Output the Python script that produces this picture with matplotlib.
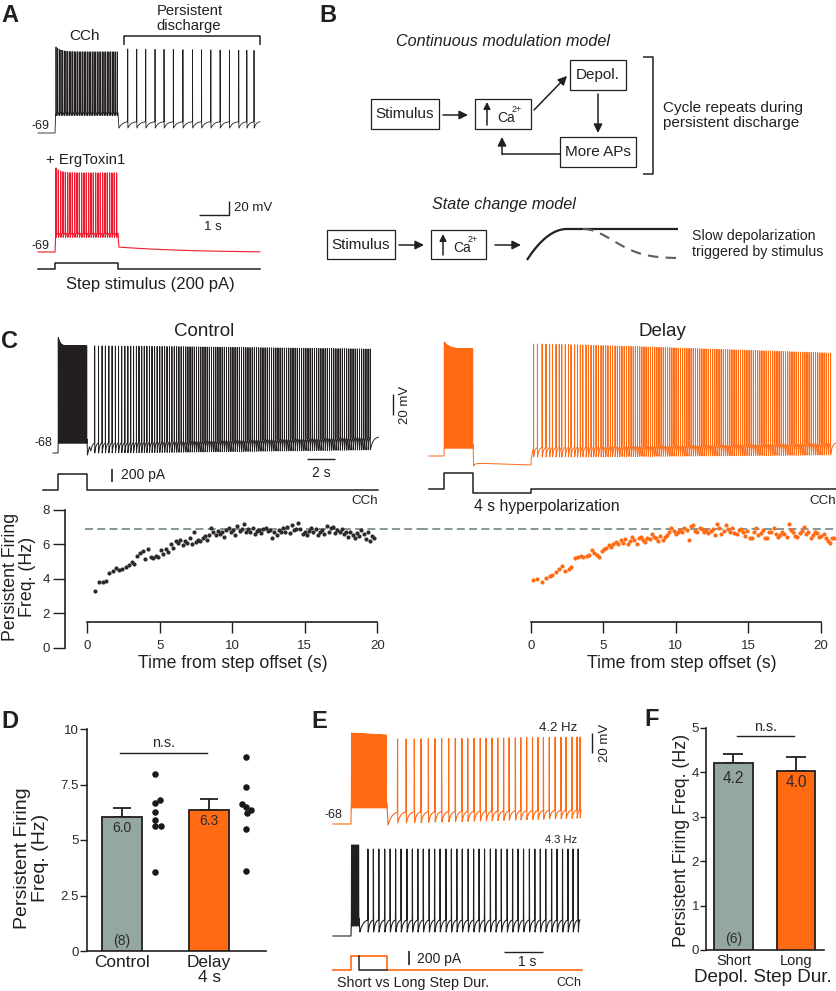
import numpy as np
import matplotlib
matplotlib.use('Agg')
import matplotlib.pyplot as plt
from matplotlib.patches import Rectangle

plt.rcParams['font.family'] = ['Liberation Sans', 'DejaVu Sans']

W, H = 837, 991
INK = '#231f20'
ORANGE = '#ff6a13'
RED = '#ee1c2e'
GRAY = '#95a7a2'
DASH = '#7d8f8b'

#################################################
# data

# C: persistent firing frequency vs time from step offset
ctrl_t = [0.53, 0.80, 1.05, 1.28, 1.52, 1.75, 1.98, 2.20, 2.42, 2.64, 2.85, 3.05, 3.25, 3.45, 3.63,
          3.82, 4.00, 4.18, 4.36, 4.54, 4.72, 4.90, 5.08, 5.25, 5.42, 5.59, 5.76, 5.93, 6.10, 6.26,
          6.42, 6.58, 6.74, 6.90, 7.05, 7.20, 7.35, 7.50, 7.65, 7.80, 7.95, 8.10, 8.25, 8.40, 8.55,
          8.70, 8.85, 9.00, 9.15, 9.30, 9.45, 9.60, 9.75, 9.90, 10.05, 10.20, 10.35, 10.50, 10.65,
          10.80, 10.95, 11.10, 11.25, 11.40, 11.55, 11.70, 11.85, 12.00, 12.15, 12.30, 12.45, 12.60,
          12.75, 12.90, 13.05, 13.20, 13.35, 13.50, 13.65, 13.80, 13.95, 14.10, 14.25, 14.40, 14.55,
          14.70, 14.85, 15.00, 15.15, 15.30, 15.45, 15.60, 15.75, 15.90, 16.05, 16.20, 16.35, 16.50,
          16.65, 16.80, 16.95, 17.10, 17.25, 17.40, 17.55, 17.70, 17.85, 18.00, 18.15, 18.30, 18.45,
          18.60, 18.75, 18.90, 19.05, 19.20, 19.35, 19.50, 19.65, 19.80]
ctrl_f = [3.30, 3.80, 3.82, 3.85, 4.35, 4.45, 4.62, 4.50, 4.58, 4.70, 4.80, 4.95, 4.88, 5.35, 5.50,
          5.62, 5.15, 5.75, 5.25, 5.20, 5.30, 5.28, 5.65, 5.45, 5.75, 5.55, 6.05, 5.80, 6.20, 6.10,
          6.25, 5.95, 6.20, 6.10, 6.35, 6.05, 6.70, 6.15, 6.25, 6.20, 6.35, 6.50, 6.25, 6.55, 6.95,
          6.70, 6.55, 6.80, 6.60, 6.75, 6.45, 6.85, 6.95, 6.70, 6.85, 6.55, 7.05, 6.80, 6.90,
          7.20, 6.75, 6.90, 6.70, 6.95, 6.60, 6.80, 6.85, 6.65, 6.90, 6.95, 6.80, 6.85,
          6.40, 6.70, 6.55, 6.85, 6.70, 6.95, 6.75, 7.00, 6.65, 7.15, 6.85, 6.90, 7.25,
          6.90, 6.60, 6.75, 6.55, 6.80, 6.95, 6.70, 6.90, 6.55, 6.75, 6.85, 6.60, 7.05,
          6.75, 6.95, 7.00, 6.65, 6.85, 6.70, 6.90, 6.60, 6.75, 6.45, 6.70, 6.55, 6.40,
          6.65, 6.50, 6.85, 6.60, 6.30, 6.75, 6.20, 6.50, 6.40]

delay_t = [0.18, 0.45, 0.78, 1.05, 1.30, 1.50, 1.75, 1.98, 2.15, 2.40, 2.62, 2.80, 3.05, 3.25, 3.45,
           3.62, 3.85, 4.02, 4.20, 4.38, 4.55, 4.72, 4.90, 5.05, 5.22, 5.38, 5.55, 5.70, 5.88, 6.04,
           6.20, 6.36, 6.52, 6.68, 6.84, 7.00, 7.15, 7.30, 7.45, 7.60, 7.75, 7.90, 8.05, 8.20, 8.35,
           8.50, 8.65, 8.80, 8.95, 9.10, 9.25, 9.40, 9.55, 9.70, 9.85, 10.00, 10.15, 10.30, 10.45,
           10.60, 10.75, 10.90, 11.05, 11.20, 11.35, 11.50, 11.65, 11.80, 11.95, 12.10, 12.25, 12.40,
           12.55, 12.70, 12.85, 13.00, 13.15, 13.30, 13.45, 13.60, 13.75, 13.90, 14.05, 14.20, 14.35,
           14.50, 14.65, 14.80, 14.95, 15.10, 15.25, 15.40, 15.55, 15.70, 15.85, 16.00, 16.15, 16.30,
           16.45, 16.60, 16.75, 16.90, 17.05, 17.20, 17.35, 17.50, 17.65, 17.80, 17.95, 18.10, 18.25,
           18.40, 18.55, 18.70, 18.85, 19.00, 19.15, 19.30, 19.45, 19.60, 19.75, 19.90, 20.05, 20.20,
           20.35, 20.50, 20.65, 20.80, 20.95]
delay_f = [3.95, 4.00, 3.80, 4.05, 4.15, 4.25, 4.40, 4.55, 4.75, 4.45, 4.60, 4.70, 5.20, 5.25, 5.30,
           5.25, 5.35, 5.40, 5.70, 5.50, 5.40, 5.25, 5.60, 5.75, 5.80, 5.95, 5.85, 6.05, 6.15, 6.00,
           6.25, 6.10, 6.30, 6.00, 6.20, 6.45, 6.25, 6.05, 6.35, 6.45, 6.25, 6.15, 6.40, 6.30, 6.60,
           6.45, 6.35, 6.20, 6.50, 6.25, 6.45, 6.55, 6.70, 6.95, 6.80, 6.60, 6.75, 6.85, 6.70,
           6.95, 6.85, 6.25, 7.05, 7.10, 6.80, 6.75, 6.95, 6.90, 6.70, 6.85, 6.65, 6.80,
           6.90, 6.55, 7.20, 6.95, 6.60, 6.80, 7.10, 6.90, 6.75, 6.95, 6.65, 6.60, 6.85,
           6.90, 6.70, 6.50, 6.80, 6.40, 6.35, 6.75, 6.95, 6.55, 6.65, 6.85, 6.40, 6.35,
           6.70, 6.75, 6.95, 6.60, 6.45, 6.55, 6.75, 6.60, 6.45, 7.20, 6.85, 6.70, 6.50,
           6.45, 6.65, 6.80, 7.00, 6.60, 6.75, 6.40, 6.55, 6.70, 6.65, 6.45, 6.50, 6.60,
           6.35, 6.20, 6.10, 6.35, 6.40]
plateau_f = 6.9

# D: mean +/- SEM and individual cells
d_groups = ['Control', 'Delay\n4 s']
d_mean = [6.05, 6.35]
d_sem = [0.40, 0.50]
d_text = ['6.0', '6.3']
d_ctrl_cells = [7.97, 6.80, 6.68, 6.28, 5.90, 5.63, 5.63, 3.57]
d_delay_cells = [8.72, 7.40, 6.62, 6.50, 6.35, 6.20, 5.48, 3.60]
d_ctrl_pos = [0.38, 0.44, 0.38, 0.38, 0.38, 0.38, 0.45, 0.38]
d_delay_pos = [1.43, 1.43, 1.376, 1.43, 1.48, 1.44, 1.43, 1.43]

# F
f_groups = ['Short', 'Long']
f_mean = [4.21, 4.03]
f_sem = [0.20, 0.32]
f_text = ['4.2', '4.0']

# spike times (s) in example traces
a_persist_times = [2.42, 2.72, 3.02, 3.33, 3.63, 3.94, 4.26, 4.58, 4.88, 5.19, 5.50, 5.81,
                   6.12, 6.39, 6.63]
e_long_times = [1.19, 1.41, 1.62, 1.79, 1.98, 2.15, 2.32, 2.50, 2.67, 2.84, 2.99, 3.15, 3.31,
                3.46, 3.61, 3.76, 3.91, 4.05, 4.21, 4.35, 4.50, 4.65, 4.79, 4.93, 5.08, 5.23,
                5.38, 5.51, 5.66, 5.79, 5.87]
e_short_times = [0.43, 0.57, 0.71, 0.86, 1.00, 1.14, 1.28, 1.43, 1.57, 1.71, 1.85, 2.00, 2.14,
                 2.28, 2.43, 2.57, 2.71, 2.85, 3.00, 3.14, 3.28, 3.42, 3.57, 3.71, 3.85, 4.00,
                 4.14, 4.28, 4.42, 4.57, 4.71, 4.85, 4.99, 5.14, 5.28, 5.42, 5.56, 5.69, 5.82]

#################################################

fig = plt.figure(figsize=(W / 100, H / 100), dpi=100)
canvas = fig.add_axes([0, 0, 1, 1])
canvas.set_xlim(0, W)
canvas.set_ylim(H, 0)
canvas.axis('off')


def T(x, y, s, size=11, ha='center', va='center', **kw):
    canvas.text(x, y, s, fontsize=size, ha=ha, va=va, color=INK, **kw)


def L(xs, ys, lw=1.1, color=INK, **kw):
    canvas.plot(xs, ys, color=color, lw=lw, solid_capstyle='butt', **kw)


def arrow(x0, y0, x1, y1, ms=13):
    canvas.annotate('', xy=(x1, y1), xytext=(x0, y0),
                    arrowprops=dict(arrowstyle='-|>', lw=1.1, color=INK, mutation_scale=ms,
                                    shrinkA=0, shrinkB=0))


def box(x0, y0, x1, y1):
    canvas.add_patch(Rectangle((x0, y0), x1 - x0, y1 - y0, fill=False, ec=INK, lw=0.9))


def tax(x_t0, px_s, y_ref, v_ref, px_v):
    # full-figure axes in time / voltage units
    ax = fig.add_axes([0, 0, 1, 1])
    ax.set_xlim(-x_t0 / px_s, (W - x_t0) / px_s)
    ax.set_ylim(v_ref - (H - y_ref) / px_v, v_ref + y_ref / px_v)
    ax.axis('off')
    return ax


def px_axes(x0, y0, x1, y1):
    ax = fig.add_axes([x0 / W, 1 - y1 / H, (x1 - x0) / W, (y1 - y0) / H])
    ax.set_facecolor('none')
    return ax


def spikes(times, t_end, thr, pk, tr, w=0.004, nrec=8):
    times = np.asarray(times, float)
    n = len(times)

    def lev(p):
        if np.ndim(p) == 0:
            return np.full(n, float(p))
        p = np.asarray(p, float)
        if len(p) == 2 and n != 2:
            return np.linspace(p[0], p[1], n)
        return p
    thr, pk, tr = lev(thr), lev(pk), lev(tr)
    u = np.linspace(0, 1, nrec)[1:]
    shape = (1 - np.exp(-3 * u)) / (1 - np.exp(-3))
    tt, vv = [], []
    for i in range(n):
        t0 = times[i]
        t1 = times[i + 1] if i < n - 1 else t_end
        target = thr[i + 1] if i < n - 1 else thr[i]
        ta = t0 + 2.5 * w
        tt += [t0, t0 + w, ta]
        vv += [thr[i], pk[i], tr[i]]
        tt += list(ta + (t1 - ta) * u)
        vv += list(tr[i] + (target - tr[i]) * shape)
    return np.array(tt), np.array(vv)


def relax(t0, t1, v0, v1, tau, n=40):
    t = np.linspace(t0, t1, n)
    return t, v1 + (v0 - v1) * np.exp(-(t - t0) / tau)


def pts(t, v):
    return np.asarray(t, float), np.asarray(v, float)


def join(*parts):
    return np.concatenate([p[0] for p in parts]), np.concatenate([p[1] for p in parts])


# Panel letters
for x, y, s in [(1, 15, 'A'), (319, 15, 'B'), (1, 342, 'C'), (1, 722, 'D'), (311, 722, 'E'), (644, 720, 'F')]:
    T(x, y, s, size=17, ha='left', weight='bold')

# ================= A =================
ax = tax(55, 30, 133, -69, 0.7)
n = 38
t, v = join(pts([-0.57, 0, 0.02], [-69, -69, -44]),
            spikes(np.linspace(0.03, 2.07, n), 2.1, -40, 47 + 7 * np.exp(-np.arange(n) / 3), -44),
            pts([2.13], [-62]),
            relax(2.13, 2.415, -62, -52, 0.12),
            spikes(a_persist_times, 6.83, -53, (51, 49), -62))
ax.plot(t, v, color=INK, lw=0.6)

ax = tax(55, 30, 252, -69, 0.7)
n = 27
t, v = join(pts([-0.57, 0, 0.02], [-69, -69, -48]),
            spikes(np.linspace(0.03, 2.05, n), 2.1, -42, 44 + 7 * np.exp(-np.arange(n) / 2), -48),
            pts([2.13], [-62]),
            relax(2.13, 6.83, -62, -70, 2.5))
ax.plot(t, v, color=RED, lw=0.8)

ax = tax(55, 30, 269, 0, 0.03)
ax.plot([-0.57, 0, 0, 2.1, 2.1, 6.83], [0, 0, 200, 200, 0, 0], color=INK, lw=1.1)

T(85, 36, 'CCh', size=11)
T(190, 11, 'Persistent', size=10.7)
T(189, 26, 'discharge', size=10.7)
L([124, 124, 260, 260], [45, 36, 36, 45], lw=1.1)
T(50, 126, '-69', size=9, ha='right')
T(46, 160, '+ ErgToxin1', size=10.7, ha='left')
T(50, 246, '-69', size=9, ha='right')
L([229, 229, 199], [201, 215, 215], lw=1.0)
T(234, 208, '20 mV', size=9.5, ha='left')
T(213, 227, '1 s', size=9.5)
T(150, 285, 'Step stimulus (200 pA)', size=12)

# ================= B =================
T(503, 41, 'Continuous modulation model', size=11.6, style='italic')
box(371, 99, 439, 129)
T(405, 114, 'Stimulus', size=11)
arrow(443, 115, 468, 115)
box(475, 99, 531, 129)
arrow(487, 125, 487, 102, ms=10)
T(497, 118, 'Ca', size=10, ha='left')
T(512, 109, '2+', size=6.5, ha='left')
arrow(534, 110, 567, 76)
box(570, 60, 626, 90)
T(598, 75, 'Depol.', size=11)
arrow(598, 94, 598, 133)
box(560, 137, 636, 167)
T(598, 152, 'More APs', size=11)
L([560, 502], [154, 154])
arrow(502, 154.5, 502, 137)
L([643, 653, 653, 643], [57, 57, 174, 174])
T(663, 108, 'Cycle repeats during', size=11, ha='left')
T(663, 123, 'persistent discharge', size=11, ha='left')

T(504, 204, 'State change model', size=11.6, style='italic')
box(327, 230, 395, 259)
T(361, 245, 'Stimulus', size=11)
arrow(399, 245, 424, 245)
box(431, 230, 486, 259)
arrow(443, 255, 443, 234, ms=10)
T(453, 248, 'Ca', size=10, ha='left')
T(468, 239, '2+', size=6.5, ha='left')
arrow(495, 245, 521, 245)
u = np.linspace(0, 1, 40)
L(np.concatenate([527 + 40 * u, [678]]), np.concatenate([229 + 31 * (1 - u) ** 2, [229]]), lw=1.6)
L(583 + 94 * u, 229 + 29 * (1 - np.exp(-(u / 0.45) ** 2)) / (1 - np.exp(-(1 / 0.45) ** 2)),
  lw=1.5, color='#55605e', ls=(0, (5, 3.5)))
T(692, 236, 'Slow depolarization', size=10.2, ha='left')
T(692, 252, 'triggered by stimulus', size=10.2, ha='left')

# ================= C traces =================
n = 60
ax = tax(58, 14.3, 453, -68, 1.05)
t, v = join(pts([-0.35, 0, 0.015], [-68, -68, -58]),
            spikes(np.linspace(0.02, 2.0, n), 2.03, -55, 34 + 8 * np.exp(-np.arange(n) / 4), -58.5),
            pts([2.06, 2.2, 2.3], [-70, -62, -66]),
            relax(2.3, 2.03 + ctrl_t[0] - 0.002, -66, -58, 0.1),
            spikes(2.03 + np.array(ctrl_t), 22.4, (-58.5, -53), (34, 31), (-68, -65)))
ax.plot(t, v, color=INK, lw=0.7)

ax = tax(444, 14.3, 456, -68, 1.05)
t, v = join(pts([-1.05, 0, 0.015], [-68, -68, -60]),
            spikes(np.linspace(0.02, 2.0, n), 2.03, -57, 34 + 6.6 * np.exp(-np.arange(n) / 10), -60.4),
            pts([2.07], [-77.5]),
            relax(2.07, 2.6, -77.5, -75, 0.1),
            pts([6.08, 6.1], [-76.5, -70]),
            spikes(6.08 + np.array(delay_t), 27.4, (-60, -55.6), (38.7, 30), (-69, -67)))
ax.plot(t, v, color=ORANGE, lw=0.7)

ax = tax(58, 14.3, 490, 0, 0.08)
ax.plot([-1.05, 0, 0, 2.03, 2.03, 22.4], [0, 0, 200, 200, 0, 0], color=INK, lw=1.1)
ax = tax(444, 14.3, 489, 0, 0.08)
ax.plot([-1.05, 0, 0, 2.03, 2.03, 6.08, 6.08, 27.4], [0, 0, 200, 200, -50, -50, 0, 0], color=INK, lw=1.1)

T(204, 332, 'Control', size=13.5)
T(662, 332, 'Delay', size=13.5)
T(52, 443, '-68', size=9, ha='right')
L([393, 393], [394, 415], lw=1.0)
T(405, 405, '20 mV', size=9.5, rotation=90)
L([307, 335], [459, 459], lw=1.0)
T(321, 473, '2 s', size=10)
L([112, 112], [469, 482], lw=1.2)
T(121, 475, '200 pA', size=10, ha='left')
T(378, 501, 'CCh', size=9.6, ha='right')
T(836, 501, 'CCh', size=9.6, ha='right')
T(474, 507, '4 s hyperpolarization', size=11.3, ha='left')

# ================= C scatter =================
tick_kw = dict(colors=INK, labelcolor='#2b2b2b', labelsize=9.5, width=1.0)
ax = px_axes(65, 510, 420, 647.7)
ax.set_xlim((65 - 87.3) / 14.5, (420 - 87.3) / 14.5)
ax.set_ylim(0, 8)
ax.scatter(ctrl_t, ctrl_f, s=9, color='#2b2b2b', lw=0, zorder=3)
ax.axhline(plateau_f, xmin=0.056, xmax=1, color=DASH, lw=1.3, ls=(0, (4.4, 2.4)), zorder=2)
ax2 = px_axes(420, 510, 837, 647.7)
ax2.set_xlim((420 - 530.7) / 14.5, (837 - 530.7) / 14.5)
ax2.set_ylim(0, 8)
ax2.scatter(delay_t, delay_f, s=9, color=ORANGE, lw=0, zorder=3)
ax2.axhline(plateau_f, color=DASH, lw=1.3, ls=(0, (4.4, 2.4)), zorder=2)
for a in (ax, ax2):
    for s in ('top', 'right'):
        a.spines[s].set_visible(False)
    a.spines['bottom'].set_position(('data', 1.49))
    a.spines['bottom'].set_bounds(0, 20)
    a.spines['bottom'].set_linewidth(1.2)
    a.spines['bottom'].set_color(INK)
    a.set_xticks([0, 5, 10, 15, 20])
    a.tick_params(axis='x', length=8, pad=5, **tick_kw)
ax.spines['left'].set_bounds(0, 8)
ax.spines['left'].set_linewidth(1.2)
ax.spines['left'].set_color(INK)
ax.set_yticks([0, 2, 4, 6, 8])
ax.tick_params(axis='y', length=8.4, pad=2.5, **tick_kw)
ax2.spines['left'].set_visible(False)
ax2.set_yticks([])
T(19, 577, 'Persistent Firing\nFreq. (Hz)', size=12.8, rotation=90, linespacing=1.05)
T(233, 664, 'Time from step offset (s)', size=12.7)
T(682, 664, 'Time from step offset (s)', size=12.7)

# ================= D =================
ax = px_axes(87, 729, 266, 951)
ax.set_xlim(-0.402, 1.655)
ax.set_ylim(0, 10)
ax.errorbar([0, 1], d_mean, yerr=[[0, 0], d_sem], fmt='none', ecolor=INK, elinewidth=1.3,
            capsize=6.5, capthick=1.3, zorder=2)
ax.bar([0, 1], d_mean, width=0.45, color=[GRAY, ORANGE], edgecolor=INK, lw=1.3, zorder=3)
ax.scatter(d_ctrl_pos, d_ctrl_cells, s=22, color='#1a1a1a', lw=0, zorder=4)
ax.scatter(d_delay_pos, d_delay_cells, s=22, color='#1a1a1a', lw=0, zorder=4)
for i in range(2):
    ax.text(i, d_mean[i] - 0.18, d_text[i], ha='center', va='top', fontsize=10, color='#2b2b2b', zorder=5)
ax.text(0, 0.45, '(8)', ha='center', va='center', fontsize=10, color='#2b2b2b', zorder=5)
ax.plot([-0.023, 0.977], [8.92, 8.92], color=INK, lw=1.0)
ax.text(0.477, 9.37, 'n.s.', ha='center', va='center', fontsize=10.4, color='#2b2b2b')
for s in ('top', 'right'):
    ax.spines[s].set_visible(False)
for s in ('left', 'bottom'):
    ax.spines[s].set_linewidth(1.2)
    ax.spines[s].set_color(INK)
ax.set_yticks([0, 2.5, 5, 7.5, 10])
ax.set_yticklabels(['0', '2.5', '5', '7.5', '10'])
ax.tick_params(axis='y', length=5, pad=1, **tick_kw)
ax.set_xticks([0, 1])
ax.set_xticklabels(d_groups, fontsize=12.4, color=INK)
ax.tick_params(axis='x', length=0, pad=3)
for lab in ax.get_xticklabels():
    lab.set_linespacing(0.95)
    lab.set_verticalalignment('top')
T(31.5, 858, 'Persistent Firing\nFreq. (Hz)', size=14, rotation=90, linespacing=1.05)

# ================= E =================
ax = tax(351, 39, 824, -68, 1.0)
n = 30
t, v = join(pts([-0.46, 0, 0.005], [-68, -68, -52]),
            spikes(np.linspace(0.01, 0.9, n), 0.92, -47, (23, 21), -52),
            pts([0.95], [-69]),
            relax(0.95, e_long_times[0] - 0.002, -69, -55, 0.1),
            spikes(e_long_times, 5.9, (-56, -54), (17, 19), (-67, -62)))
ax.plot(t, v, color=ORANGE, lw=0.8)

ax = tax(351, 39, 936, -68, 1.0)
n = 8
t, v = join(pts([-0.46, 0, 0.005], [-68, -68, -58]),
            spikes(np.linspace(0.01, 0.19, n), 0.2, -50, 23, -58),
            pts([0.23], [-64]),
            relax(0.23, e_short_times[0] - 0.002, -64, -51, 0.08),
            spikes(e_short_times, 5.87, -52, 19, -64))
ax.plot(t, v, color=INK, lw=0.8)

ax = tax(351, 39, 970, 0, 0.07)
ax.plot([-0.46, 0, 0, 0.92, 0.92, 5.92], [0, 0, 200, 200, 0, 0], color=ORANGE, lw=1.2)
ax.plot([0.2, 0.2, 0.92], [200, 0, 0], color=INK, lw=1.1)

T(342, 815, '-68', size=9, ha='right')
T(577, 728, '4.2 Hz', size=9.5, ha='right')
T(577, 840, '4.3 Hz', size=8, ha='right')
L([592, 592], [733, 753], lw=1.0)
T(605, 743, '20 mV', size=9.5, rotation=90)
L([409, 409], [951, 965], lw=1.2)
T(417, 959, '200 pA', size=10, ha='left')
L([504, 543], [952, 952], lw=1.0)
T(527, 962, '1 s', size=10)
T(337, 983, 'Short vs Long Step Dur.', size=10.3, ha='left')
T(581, 983, 'CCh', size=9, ha='right')

# ================= F =================
ax = px_axes(706, 728, 824, 950)
ax.set_xlim(-0.44, 1.448)
ax.set_ylim(0, 5)
ax.errorbar([0, 1], f_mean, yerr=[[0, 0], f_sem], fmt='none', ecolor=INK, elinewidth=1.3,
            capsize=7.2, capthick=1.3, zorder=2)
ax.bar([0, 1], f_mean, width=0.62, color=[GRAY, ORANGE], edgecolor=INK, lw=1.3, zorder=3)
ax.text(0, 3.87, f_text[0], ha='center', va='center', fontsize=11.2, color='#2b2b2b', zorder=5)
ax.text(1, 3.77, f_text[1], ha='center', va='center', fontsize=11.2, color='#2b2b2b', zorder=5)
ax.text(0, 0.25, '(6)', ha='center', va='center', fontsize=10, color='#2b2b2b', zorder=5)
ax.plot([0.056, 0.968], [4.82, 4.82], color=INK, lw=1.0)
ax.text(0.512, 5.03, 'n.s.', ha='center', va='center', fontsize=10.4, color='#2b2b2b')
for s in ('top', 'right'):
    ax.spines[s].set_visible(False)
for s in ('left', 'bottom'):
    ax.spines[s].set_linewidth(1.2)
    ax.spines[s].set_color(INK)
ax.set_yticks([0, 1, 2, 3, 4, 5])
ax.tick_params(axis='y', length=4.5, pad=0.5, **tick_kw)
ax.set_xticks([0, 1])
ax.set_xticklabels(f_groups, fontsize=10.5, color=INK)
ax.tick_params(axis='x', length=0, pad=3)
T(682, 840, 'Persistent Firing Freq. (Hz)', size=12.8, rotation=90)
T(763, 977, 'Depol. Step Dur.', size=13.6)

fig.savefig('out.png', dpi=100)
